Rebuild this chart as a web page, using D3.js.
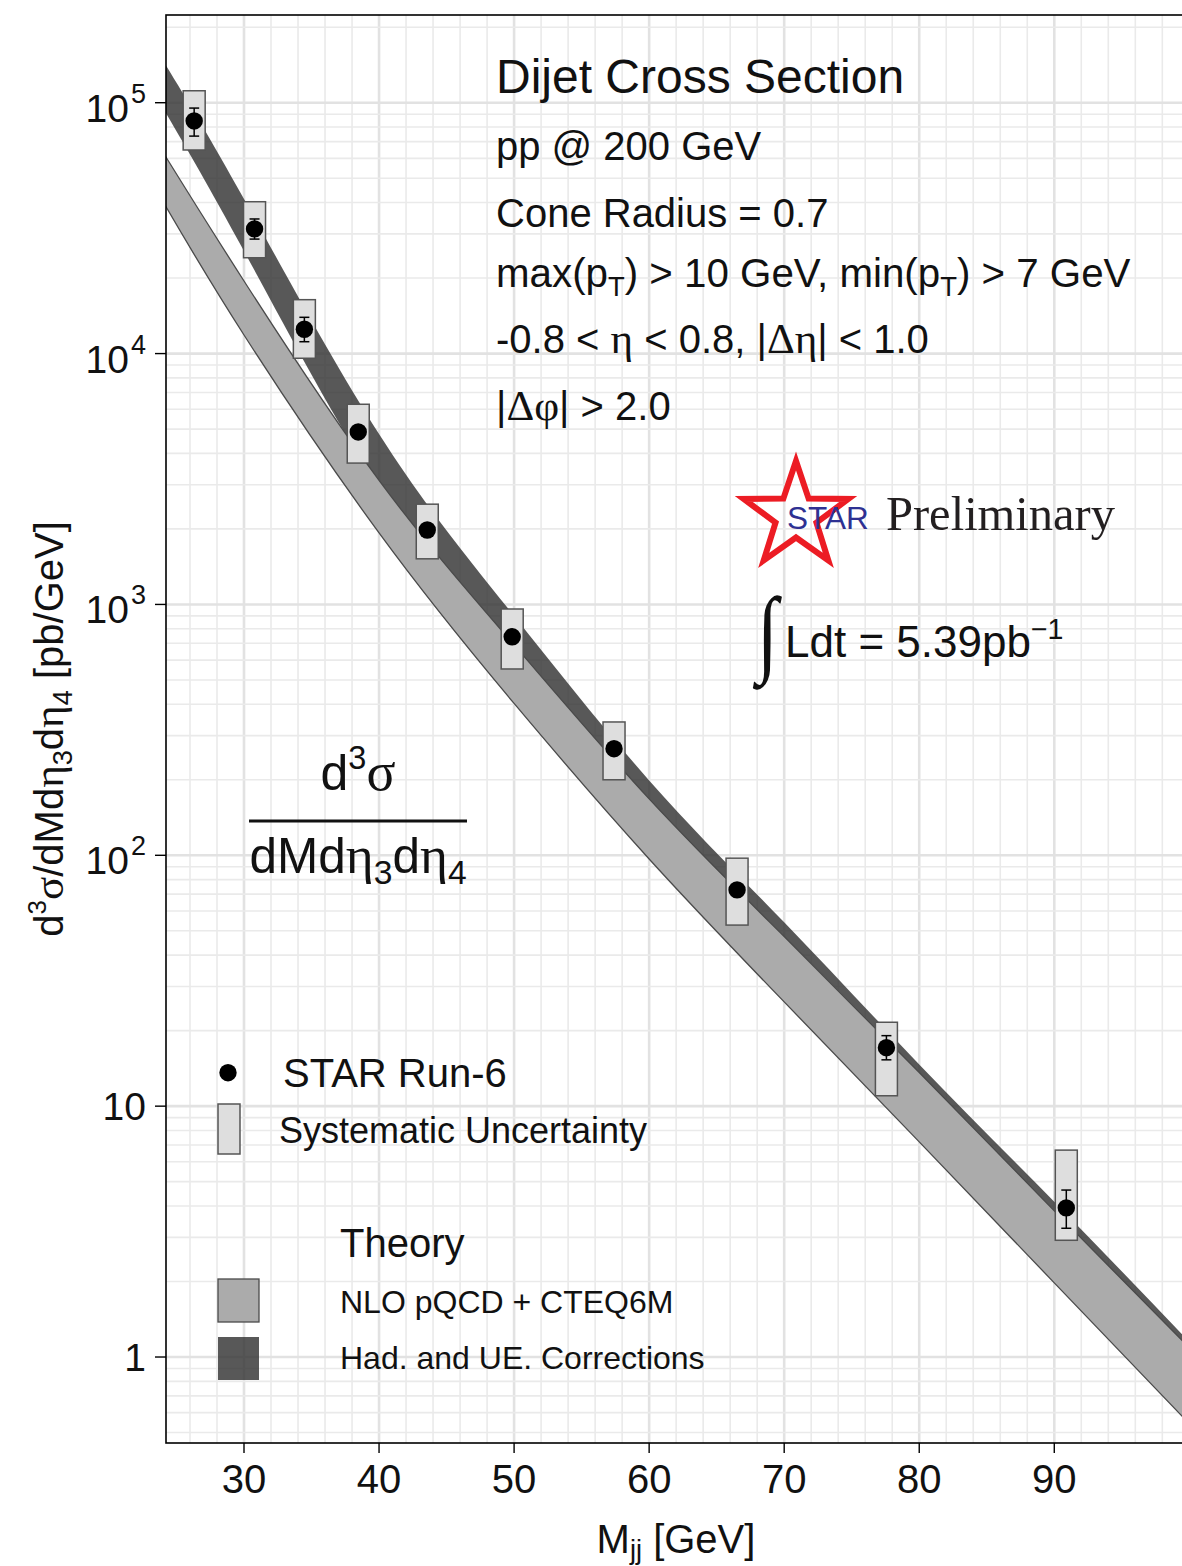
<!DOCTYPE html>
<html><head><meta charset="utf-8">
<script src="https://cdn.jsdelivr.net/npm/d3@7"></script>
<style>body{margin:0;background:#fff} svg{display:block}</style>
</head><body>
<script>
// ---------- data ----------
const mjj    = [26.31, 30.78, 34.47, 38.46, 43.57, 49.86, 57.40, 66.51, 77.57, 90.89];
const xsec   = [84600, 31400, 12500, 4870, 1980, 743, 266, 72.8, 17.1, 3.93];
const statLo = [73600, 28600, 11150, 4680, 1900, 713, 255, 69.9, 15.3, 3.26];
const statHi = [95200, 34400, 13950, 5060, 2060, 773, 277, 75.7, 19.1, 4.63];
const sysLo  = [64800, 24100, 9580, 3660, 1520, 553, 200, 52.7, 11.0, 2.92];
const sysHi  = [111600, 40300, 16400, 6280, 2510, 959, 340, 97.4, 21.6, 6.68];

const bandM  = [24, 30, 40, 50, 60, 70, 80, 90, 100];
const nloLo  = [40350, 11860, 1928, 403.1, 96.7, 26.04, 7.206, 1.975, 0.5417];
const nloHi  = [63480, 19470, 3123, 689.5, 167.8, 47.43, 13.62, 3.825, 1.088];
const hadLo  = [95250, 25640, 2913, 600.8, 146.2, 41.21, 11.83, 3.334, 0.948];
const hadHi  = [147300, 41320, 4781, 899.9, 198.9, 54.08, 14.66, 4.155, 1.150];

const xTicks = [30, 40, 50, 60, 70, 80, 90];
const yTicks = [1, 10, 100, 1000, 10000, 100000];
const yTickBase = ["1", "10", "10", "10", "10", "10"];
const yTickExp  = ["", "", "2", "3", "4", "5"];

// ---------- setup ----------
const W = 1182, H = 1566;
const L = 166, T = 15, R = 1190, B = 1443;
const SANS = '"Liberation Sans", Arial, Helvetica, sans-serif';
const SERIF = '"Liberation Serif", "Times New Roman", serif';

const svg = d3.select("body").append("svg").attr("width", W).attr("height", H)
  .style("font-family", SANS);

const x = d3.scaleLinear().domain([24.224, 100.05]).range([L, R]);
const y = d3.scaleLog().domain([0.4542, 223700]).range([B, T]);

svg.append("defs").append("clipPath").attr("id", "clip")
  .append("rect").attr("x", L).attr("y", T).attr("width", R - L).attr("height", B - T);

// ---------- grid ----------
const grid = svg.append("g").attr("clip-path", "url(#clip)");
const vLines = d3.range(24, 101, 2);
grid.selectAll("line.v").data(vLines).join("line")
  .attr("x1", d => x(d)).attr("x2", d => x(d)).attr("y1", T).attr("y2", B)
  .attr("stroke", d => d % 10 === 0 ? "#e2e2e2" : "#eaeaea")
  .attr("stroke-width", d => d % 10 === 0 ? 2.6 : 1.6);
const hLines = [];
for (let k = -1; k <= 5; k++) for (let m = 1; m <= 9; m++) hLines.push({v: m * Math.pow(10, k), major: m === 1});
grid.selectAll("line.h").data(hLines.filter(d => d.v > 0.4542 && d.v < 223700)).join("line")
  .attr("x1", L).attr("x2", R).attr("y1", d => y(d.v)).attr("y2", d => y(d.v))
  .attr("stroke", d => d.major ? "#e2e2e2" : "#eaeaea")
  .attr("stroke-width", d => d.major ? 2.6 : 1.6);

// ---------- bands ----------
const plot = svg.append("g").attr("clip-path", "url(#clip)");
const had = bandM.map((m, i) => ({m, lo: hadLo[i], hi: hadHi[i]}));
const nlo = bandM.map((m, i) => ({m, lo: nloLo[i], hi: nloHi[i]}));
const area = d3.area().x(d => x(d.m)).y0(d => y(d.lo)).y1(d => y(d.hi)).curve(d3.curveNatural);
plot.append("path").datum(had).attr("d", area).attr("fill", "#333333").attr("fill-opacity", 0.82);
plot.append("path").datum(nlo).attr("d", area).attr("fill", "#ababab");
const lineLo = d3.line().x(d => x(d.m)).y(d => y(d.lo)).curve(d3.curveNatural);
const lineHi = d3.line().x(d => x(d.m)).y(d => y(d.hi)).curve(d3.curveNatural);
plot.append("path").datum(nlo).attr("d", lineLo).attr("fill", "none").attr("stroke", "#4a4a4a").attr("stroke-width", 1.3);
plot.append("path").datum(nlo).attr("d", lineHi).attr("fill", "none").attr("stroke", "#4a4a4a").attr("stroke-width", 1.3);

// ---------- data points ----------
const pts = mjj.map((m, i) => ({m, v: xsec[i], slo: statLo[i], shi: statHi[i], ylo: sysLo[i], yhi: sysHi[i]}));
const BOXW = 22;
plot.selectAll("rect.sys").data(pts).join("rect")
  .attr("x", d => x(d.m) - BOXW / 2).attr("width", BOXW)
  .attr("y", d => y(d.yhi)).attr("height", d => y(d.ylo) - y(d.yhi))
  .attr("fill", "#dedede").attr("stroke", "#555").attr("stroke-width", 1.5);
const eb = plot.selectAll("g.eb").data(pts).join("g");
eb.append("line").attr("x1", d => x(d.m)).attr("x2", d => x(d.m))
  .attr("y1", d => y(d.slo)).attr("y2", d => y(d.shi)).attr("stroke", "#000").attr("stroke-width", 1.5);
eb.append("line").attr("x1", d => x(d.m) - 5).attr("x2", d => x(d.m) + 5)
  .attr("y1", d => y(d.slo)).attr("y2", d => y(d.slo)).attr("stroke", "#000").attr("stroke-width", 1.5);
eb.append("line").attr("x1", d => x(d.m) - 5).attr("x2", d => x(d.m) + 5)
  .attr("y1", d => y(d.shi)).attr("y2", d => y(d.shi)).attr("stroke", "#000").attr("stroke-width", 1.5);
plot.selectAll("circle.pt").data(pts).join("circle")
  .attr("cx", d => x(d.m)).attr("cy", d => y(d.v)).attr("r", 8.7).attr("fill", "#000");

// ---------- frame & axes ----------
svg.append("rect").attr("x", L).attr("y", T).attr("width", R - L).attr("height", B - T)
  .attr("fill", "none").attr("stroke", "#000").attr("stroke-width", 1.6);

svg.selectAll("line.xt").data(xTicks).join("line")
  .attr("x1", d => x(d)).attr("x2", d => x(d)).attr("y1", B).attr("y2", B + 10)
  .attr("stroke", "#000").attr("stroke-width", 1.4);
svg.selectAll("text.xt").data(xTicks).join("text")
  .attr("x", d => x(d)).attr("y", B + 50).attr("text-anchor", "middle")
  .attr("font-size", 40).attr("fill", "#111").text(d => d);

svg.selectAll("line.yt").data(yTicks).join("line")
  .attr("x1", L - 11).attr("x2", L).attr("y1", d => y(d)).attr("y2", d => y(d))
  .attr("stroke", "#000").attr("stroke-width", 1.4);
yTicks.forEach((v, i) => {
  const t = svg.append("text").attr("x", 146).attr("text-anchor", "end")
    .attr("font-size", 39).attr("fill", "#111");
  if (yTickExp[i]) {
    t.attr("y", y(v) + 19);
    t.append("tspan").text(yTickBase[i]);
    t.append("tspan").text(yTickExp[i]).attr("font-size", 27).attr("dy", -19).attr("dx", 2);
  } else {
    t.attr("y", y(v) + 13.5).text(yTickBase[i]);
  }
});

// rich text helper
function rich(sel, parts, size, subShift) {
  let shift = 0;
  const sub = subShift === undefined ? 0.22 : subShift;
  parts.forEach(([t, mode]) => {
    let target = 0, fs = size, fam = null;
    if (mode === "sup") { target = -0.42 * size; fs = 0.65 * size; }
    if (mode === "sub") { target = sub * size; fs = 0.68 * size; }
    if (mode === "serif") { fam = SERIF; fs = 1.08 * size; }
    const ts = sel.append("tspan").text(t).attr("font-size", fs).attr("dy", target - shift);
    if (fam) ts.attr("font-family", fam);
    shift = target;
  });
  return sel;
}

// axis titles
rich(svg.append("text").attr("x", 676).attr("y", 1553).attr("text-anchor", "middle").attr("fill", "#111"),
  [["M", ""], ["jj", "sub"], [" [GeV]", ""]], 40, 0.14);
rich(svg.append("text").attr("transform", "translate(63,729) rotate(-90)").attr("text-anchor", "middle").attr("fill", "#111"),
  [["d", ""], ["3", "sup"], ["σ", "serif"], ["/dMd", ""], ["η", "serif"], ["3", "sub"], ["d", ""], ["η", "serif"], ["4", "sub"], [" [pb/GeV]", ""]], 40);

// ---------- annotations ----------
const info = svg.append("g").attr("fill", "#111");
info.append("text").attr("x", 496).attr("y", 93).attr("font-size", 48).text("Dijet Cross Section");
info.append("text").attr("x", 496).attr("y", 160).attr("font-size", 40).text("pp @ 200 GeV");
info.append("text").attr("x", 496).attr("y", 227).attr("font-size", 40).text("Cone Radius = 0.7");
rich(info.append("text").attr("x", 496).attr("y", 287),
  [["max(p", ""], ["T", "sub"], [") > 10 GeV, min(p", ""], ["T", "sub"], [") > 7 GeV", ""]], 40.3);
rich(info.append("text").attr("x", 496).attr("y", 353),
  [["-0.8 < ", ""], ["η", "serif"], [" < 0.8, |", ""], ["Δη", "serif"], ["| < 1.0", ""]], 40);
rich(info.append("text").attr("x", 496).attr("y", 420),
  [["|", ""], ["Δφ", "serif"], ["| > 2.0", ""]], 40);

// STAR logo
const cx = 796, cy = 516, Ro = 55, Ri = 21.5;
const star = d3.range(10).map(k => {
  const a = -Math.PI / 2 + k * Math.PI / 5;
  const r = k % 2 === 0 ? Ro : Ri;
  return [cx + r * Math.cos(a), cy + r * Math.sin(a)];
});
svg.append("polygon").attr("points", star.map(p => p.join(",")).join(" "))
  .attr("fill", "none").attr("stroke", "#ec1c24").attr("stroke-width", 6).attr("stroke-linejoin", "miter")
  .attr("stroke-miterlimit", 10);
svg.append("text").attr("x", 787).attr("y", 529).attr("font-size", 31.5).attr("fill", "#2e3192").text("STAR");
svg.append("text").attr("x", 886).attr("y", 530).attr("font-size", 48.5).attr("font-family", SERIF)
  .attr("fill", "#231f20").text("Preliminary");

// luminosity
svg.append("text").attr("transform", "translate(757,664) scale(0.8,1)").attr("font-size", 96).attr("font-family", SERIF)
  .attr("fill", "#111").text("∫");
rich(svg.append("text").attr("x", 785).attr("y", 657).attr("fill", "#111"),
  [["Ldt = 5.39pb", ""], ["−1", "sup"]], 44);

// formula
rich(svg.append("text").attr("x", 358).attr("y", 790).attr("text-anchor", "middle").attr("fill", "#111"),
  [["d", ""], ["3", "sup"], ["σ", "serif"]], 50);
svg.append("line").attr("x1", 249).attr("x2", 467).attr("y1", 821).attr("y2", 821)
  .attr("stroke", "#111").attr("stroke-width", 3);
rich(svg.append("text").attr("x", 358).attr("y", 873).attr("text-anchor", "middle").attr("fill", "#111"),
  [["dMd", ""], ["η", "serif"], ["3", "sub"], ["d", ""], ["η", "serif"], ["4", "sub"]], 49.5);

// ---------- legend ----------
const lg = svg.append("g").attr("fill", "#111");
lg.append("circle").attr("cx", 228).attr("cy", 1072.7).attr("r", 8.7).attr("fill", "#000");
lg.append("text").attr("x", 283).attr("y", 1087).attr("font-size", 40).text("STAR Run-6");
lg.append("rect").attr("x", 218).attr("y", 1104).attr("width", 22).attr("height", 50)
  .attr("fill", "#dedede").attr("stroke", "#555").attr("stroke-width", 1.5);
lg.append("text").attr("x", 279).attr("y", 1143).attr("font-size", 36).text("Systematic Uncertainty");
lg.append("text").attr("x", 340).attr("y", 1257).attr("font-size", 40).text("Theory");
lg.append("rect").attr("x", 218).attr("y", 1279).attr("width", 41).attr("height", 43)
  .attr("fill", "#ababab").attr("stroke", "#4a4a4a").attr("stroke-width", 1.3);
lg.append("text").attr("x", 340).attr("y", 1313).attr("font-size", 32).text("NLO pQCD + CTEQ6M");
lg.append("rect").attr("x", 218).attr("y", 1337).attr("width", 41).attr("height", 43)
  .attr("fill", "#333333").attr("fill-opacity", 0.82);
lg.append("text").attr("x", 340).attr("y", 1369).attr("font-size", 32).text("Had. and UE. Corrections");
</script>
</body></html>
